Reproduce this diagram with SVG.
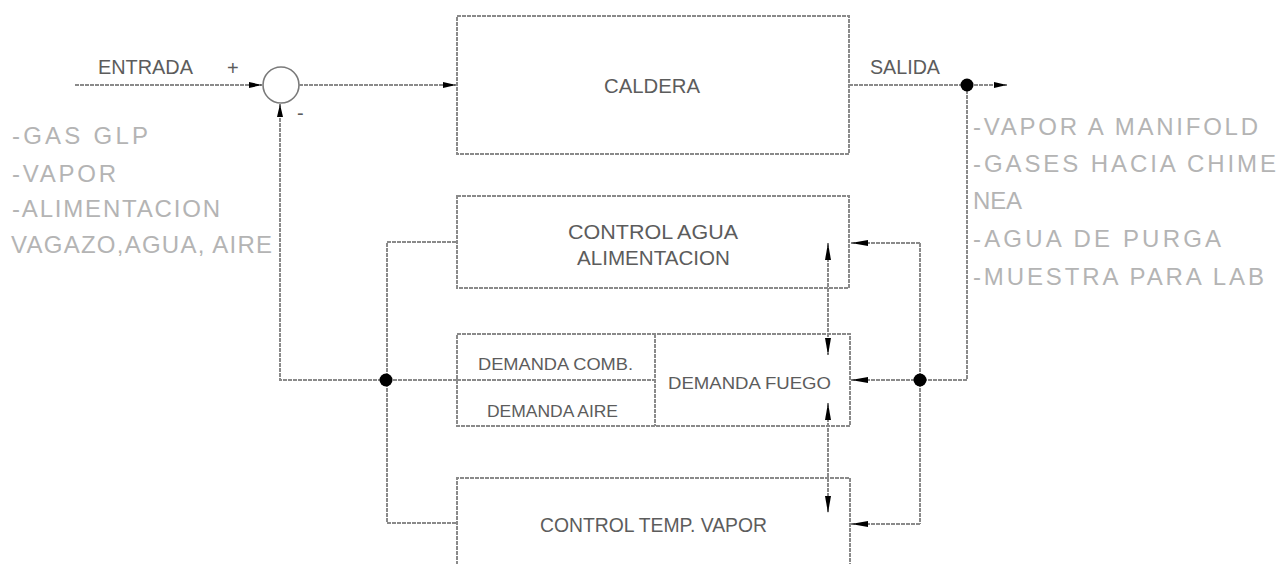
<svg xmlns="http://www.w3.org/2000/svg" width="1281" height="564" viewBox="0 0 1281 564">
<style>
.ln{fill:none;stroke:#8a8a8a;stroke-width:2;stroke-dasharray:4 1}
.bx{fill:#ffffff;stroke:#8a8a8a;stroke-width:2;stroke-dasharray:4 1}
.lbl{font-family:"Liberation Sans",Arial,sans-serif;font-size:20px;fill:#5c5c5c}
.sm{font-family:"Liberation Sans",Arial,sans-serif;font-size:16px;fill:#5c5c5c}
.side{font-family:"Liberation Sans",Arial,sans-serif;font-size:24px;fill:#b4b4b4}
.dot{fill:#000}
</style>
<defs>
<marker id="ah" viewBox="0 0 17 6" refX="17" refY="3" markerWidth="17" markerHeight="6" markerUnits="userSpaceOnUse" orient="auto-start-reverse">
<path d="M0,0 L17,3 L0,6 Z" fill="#000"/>
</marker>
<marker id="as" viewBox="0 0 13 6" refX="13" refY="3" markerWidth="13" markerHeight="6" markerUnits="userSpaceOnUse" orient="auto-start-reverse">
<path d="M0,0 L13,3 L0,6 Z" fill="#000"/>
</marker>
</defs>

<g id="sum">
<circle cx="281" cy="85" r="18" fill="#fff" stroke="#7a7a7a" stroke-width="1.6"/>
<text class="lbl" x="227" y="75" font-size="18">+</text>
<text class="lbl" x="297" y="120" font-size="18">-</text>
</g>

<g id="caldera">
<rect class="bx" x="457" y="16" width="392" height="138"/>
<text class="lbl" x="604" y="93" textLength="96" lengthAdjust="spacingAndGlyphs">CALDERA</text>
</g>

<g id="control-agua">
<rect class="bx" x="457" y="196" width="392" height="92"/>
<text class="lbl" x="568" y="239" textLength="170" lengthAdjust="spacingAndGlyphs">CONTROL  AGUA</text>
<text class="lbl" x="577" y="265" textLength="153" lengthAdjust="spacingAndGlyphs">ALIMENTACION</text>
</g>

<g id="demanda">
<rect class="bx" x="457" y="334" width="393" height="92"/>
<path class="ln" d="M655,334 V426 M457,380 H655"/>
<text class="sm" x="478" y="370" textLength="155" lengthAdjust="spacingAndGlyphs">DEMANDA  COMB.</text>
<text class="sm" x="487" y="417" textLength="131" lengthAdjust="spacingAndGlyphs">DEMANDA  AIRE</text>
<text class="sm" x="668" y="389" textLength="163" lengthAdjust="spacingAndGlyphs">DEMANDA  FUEGO</text>
</g>

<g id="control-temp">
<path class="bx" d="M457,570 V478 H850 V570"/>
<text class="lbl" x="540" y="532" textLength="227" lengthAdjust="spacingAndGlyphs">CONTROL  TEMP.  VAPOR</text>
</g>

<g id="connectors">
<path class="ln" d="M75,85 H262" marker-end="url(#as)"/>
<path class="ln" d="M299,85 H456" marker-end="url(#as)"/>
<path class="ln" d="M457,380 H280 V104" marker-end="url(#as)"/>
<path class="ln" d="M456,242 H387 V523 H456"/>
<path class="ln" d="M849,85 H1007" marker-end="url(#as)"/>
<path class="ln" d="M967,85 V380 H920"/>
<path class="ln" d="M920,380 H851" marker-end="url(#ah)"/>
<path class="ln" d="M920,243 H851" marker-end="url(#ah)"/>
<path class="ln" d="M920,243 V524"/>
<path class="ln" d="M920,524 H851" marker-end="url(#ah)"/>
<path class="ln" d="M828,243 V355" marker-start="url(#ah)" marker-end="url(#ah)"/>
<path class="ln" d="M828,403 V513" marker-start="url(#ah)" marker-end="url(#ah)"/>
<circle class="dot" cx="386" cy="380" r="6.5"/>
<circle class="dot" cx="920" cy="380" r="6.5"/>
<circle class="dot" cx="967" cy="85" r="6.5"/>
</g>

<g id="io-labels">
<text class="lbl" x="98" y="74" font-size="19" textLength="95" lengthAdjust="spacingAndGlyphs">ENTRADA</text>
<text class="lbl" x="870" y="74" font-size="19" textLength="70" lengthAdjust="spacingAndGlyphs">SALIDA</text>
</g>

<g id="inputs-list">
<text class="side" x="12" y="144" textLength="136" lengthAdjust="spacing">-GAS  GLP</text>
<text class="side" x="12" y="182" textLength="104" lengthAdjust="spacing">-VAPOR</text>
<text class="side" x="12" y="217" textLength="208" lengthAdjust="spacing">-ALIMENTACION</text>
<text class="side" x="11" y="253" textLength="261" lengthAdjust="spacing">VAGAZO,AGUA,  AIRE</text>
</g>

<g id="outputs-list">
<text class="side" x="973" y="135" textLength="285" lengthAdjust="spacing">-VAPOR  A  MANIFOLD</text>
<text class="side" x="973" y="172" textLength="303" lengthAdjust="spacing">-GASES  HACIA  CHIME</text>
<text class="side" x="973" y="209" textLength="49" lengthAdjust="spacing">NEA</text>
<text class="side" x="973" y="247" textLength="248" lengthAdjust="spacing">-AGUA  DE  PURGA</text>
<text class="side" x="973" y="285" textLength="291" lengthAdjust="spacing">-MUESTRA  PARA  LAB</text>
</g>
</svg>
